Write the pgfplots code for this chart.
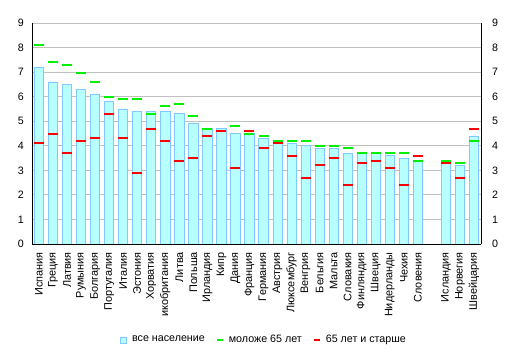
\documentclass[border=0pt]{standalone}
\usepackage{fontspec}
\setmainfont{Liberation Sans}
\usepackage{pgfplots}
\usepackage{pgfplotstable}
\pgfplotsset{compat=1.18}
\definecolor{barfill}{HTML}{B8FFFF}
\definecolor{barline}{HTML}{80C8FF}
\definecolor{ygreen}{HTML}{00F000}
\definecolor{ored}{HTML}{FF0000}
\definecolor{gridgray}{HTML}{C0C0C0}
\pgfplotstableread{
x bar young old
0 7.2 8.1 4.1
1 6.6 7.4 4.5
2 6.5 7.3 3.7
3 6.3 6.95 4.2
4 6.1 6.6 4.3
5 5.8 6.0 5.3
6 5.5 5.9 4.3
7 5.4 5.9 2.9
8 5.4 5.3 4.7
9 5.4 5.6 4.2
10 5.3 5.7 3.4
11 4.9 5.2 3.5
12 4.7 4.7 4.4
13 4.7 4.6 4.6
14 4.5 4.8 3.1
15 4.5 4.5 4.6
16 4.3 4.4 3.9
17 4.2 4.2 4.1
18 4.1 4.2 3.6
19 4.0 4.2 2.7
20 3.9 4.0 3.2
21 3.9 4.0 3.5
22 3.7 3.9 2.4
23 3.7 3.7 3.3
24 3.7 3.7 3.4
25 3.6 3.7 3.1
26 3.5 3.7 2.4
27 3.4 3.4 3.6
29 3.4 3.4 3.3
30 3.2 3.3 2.7
31 4.4 4.2 4.7
}\datatable
\begin{document}
\fontsize{10.7}{12}\selectfont
\begin{tikzpicture}
\useasboundingbox (0pt,0pt) rectangle (513pt,355pt);
\begin{axis}[
  at={(32pt,111pt)}, anchor=south west,
  scale only axis, width=449pt, height=221pt,
  xmin=-0.5, xmax=31.5, ymin=0, ymax=9,
  axis x line*=bottom, axis y line*=left,
  axis line style={black, -, line width=0.9pt},
  ytick={0,1,...,9},
  ymajorgrids, grid style={gridgray, line width=0.8pt},
  major tick length=0pt,
  xtick={0,1,...,27,29,30,31},
  xticklabels={Испания,Греция,Латвия,Румыния,Болгария,Португалия,Италия,Эстония,Хорватия,икобритания,Литва,Польша,Ирландия,Кипр,Дания,Франция,Германия,Австрия,Люксембург,Венгрия,Бельгия,Мальта,Словакия,Финляндия,Швеция,Нидерланды,Чехия,Словения,Исландия,Норвегия,Швейцария},
  xticklabel style={rotate=90, anchor=east, font=\fontsize{10.9}{12}\selectfont, inner sep=0pt},
  xticklabel shift=8pt,
  yticklabel style={font=\fontsize{10.7}{12}\selectfont, inner sep=0pt, xshift=-8pt},
  /pgf/number format/assume math mode=true,
  legend columns=3,
  legend style={at={(0.517,-0.434)}, anchor=center, draw=none, fill=none,
    font=\fontsize{10.7}{12}\selectfont, column sep=3pt,
    /tikz/every even column/.append style={column sep=9pt}},
  legend cell align=left,
]
\addplot[ybar, bar width=0.66, fill=barfill, draw=barline, line width=0.8pt,
  legend image code/.code={\draw[fill=barfill, draw=barline, line width=0.8pt] (0pt,-3pt) rectangle (6pt,3pt);}]
  table[x=x, y=bar] {\datatable};
\addlegendentry{все население}
\addplot[only marks, mark=-, mark size=5pt, color=ygreen, mark options={line width=2pt},
  legend image code/.code={\draw[ygreen, line width=2pt] (0pt,0pt) -- (6pt,0pt);}]
  table[x=x, y=young] {\datatable};
\addlegendentry{моложе 65 лет}
\addplot[only marks, mark=-, mark size=5pt, color=ored, mark options={line width=2pt},
  legend image code/.code={\draw[ored, line width=2pt] (0pt,0pt) -- (6pt,0pt);}]
  table[x=x, y=old] {\datatable};
\addlegendentry{65 лет и старше}
\end{axis}
\begin{axis}[
  at={(32pt,111pt)}, anchor=south west,
  scale only axis, width=449pt, height=221pt,
  xmin=-0.5, xmax=31.5, ymin=0, ymax=9,
  hide x axis, axis y line*=right,
  axis line style={black, -, line width=0.9pt},
  ytick={0,1,...,9}, major tick length=0pt,
  yticklabel style={font=\fontsize{10.7}{12}\selectfont, inner sep=0pt, xshift=11pt},
  /pgf/number format/assume math mode=true,
]
\addplot[draw=none] coordinates {(0,0)};
\end{axis}
\end{tikzpicture}
\end{document}
